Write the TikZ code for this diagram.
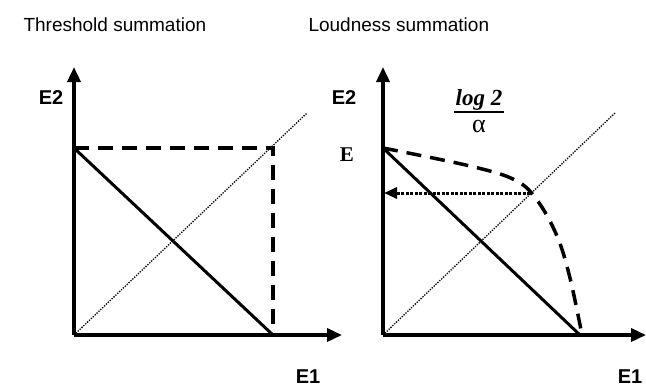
\documentclass[tikz,border=0pt]{standalone}
\usepackage{fontspec}
\setmainfont{Liberation Serif}
\setsansfont{Liberation Sans}
\usetikzlibrary{arrows.meta}

\begin{document}
\begin{tikzpicture}[x=1pt, y=-1pt,
    >=Triangle,
    axis/.style={line width=3.5pt, -{Triangle[length=15pt, width=13pt]}},
    bound/.style={line width=3.5pt, dash pattern=on 15pt off 9pt},
    sumline/.style={line width=3pt},
    diag/.style={line width=1.3pt, dash pattern=on 1.3pt off 1.3pt},
    probe/.style={line width=3pt, dash pattern=on 3pt off 1.5pt, -{Triangle[length=13pt, width=11pt]}},
    title/.style={font=\sffamily\fontsize{19}{22}\selectfont, anchor=base west},
    axlabel/.style={font=\sffamily\bfseries\fontsize{20}{22}\selectfont}
  ]
  \useasboundingbox (0,0) rectangle (646,389);

  % Threshold summation
  \coordinate (o1) at (74,335);
  \coordinate (y1) at (74,67);
  \coordinate (x1) at (342,335);
  \coordinate (a1) at (74,148);
  \coordinate (c1) at (273,148);
  \coordinate (b1) at (273,335);
  \coordinate (d1) at (307,113);
  \node[title] (t1) at (20,31) {Threshold summation};
  \node[axlabel] (e2l) at (51,98) {E2};
  \node[axlabel] (e1l) at (308,377) {E1};
  \draw[axis] (o1) -- (y1);
  \draw[axis] (o1) -- (x1);
  \draw[diag] (o1) -- (d1);
  \draw[bound] (a1) -- (c1) -- (b1);
  \draw[sumline] (a1) -- (b1);

  % Loudness summation
  \coordinate (o2) at (383,335);
  \coordinate (y2) at (383,67);
  \coordinate (x2) at (646,335);
  \coordinate (a2) at (383,148);
  \coordinate (b2) at (580,335);
  \coordinate (d2) at (615,113);
  \coordinate (m2) at (530,193);
  \coordinate (p2) at (384,193);
  \node[title] (t2) at (305,31) {Loudness summation};
  \node[axlabel] (e2r) at (344,98) {E2};
  \node[axlabel] (e1r) at (630,377) {E1};
  \node[font=\bfseries\fontsize{21}{22}\selectfont] (e) at (347,155) {E};
  \node[font=\bfseries\itshape\fontsize{23}{26}\selectfont, anchor=base, inner sep=1pt] (num) at (479,105) {log 2};
  \node[font=\fontsize{26}{26}\selectfont, anchor=base, inner sep=0pt] (den) at (479,132) {α};
  \draw[line width=1.8pt] ([yshift=-7pt]num.base west) -- ([yshift=-7pt]num.base east);
  \draw[axis] (o2) -- (y2);
  \draw[axis] (o2) -- (x2);
  \draw[diag] (o2) -- (d2);
  \draw[bound] plot[smooth, tension=0.6] coordinates
    {(a2) (470,166) (515,180) (537,200) (557,236) (570,278) (582,335)};
  \draw[sumline] (a2) -- (b2);
  \draw[probe] (m2) -- (p2);
\end{tikzpicture}
\end{document}
